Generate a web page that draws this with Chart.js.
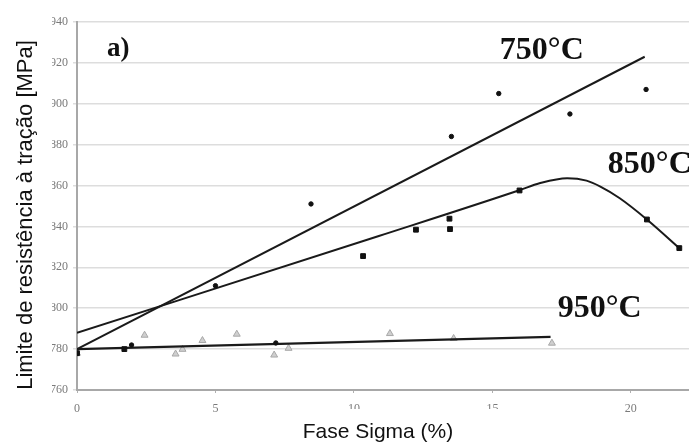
<!DOCTYPE html>
<html>
<head>
<meta charset="utf-8">
<script src="https://cdn.jsdelivr.net/npm/chart.js@4.4.0/dist/chart.umd.min.js"></script>
<style>
  html, body { margin: 0; padding: 0; background: #ffffff; }
  #wrap { width: 689px; height: 447px; }
</style>
</head>
<body>
<div id="wrap"><canvas id="chart" width="689" height="447"></canvas></div>
<script>
// Sigma phase content (%) and tensile strength (MPa) for each ageing temperature
const sigma750 = [0, 1.97, 5.0, 7.18, 8.45, 13.52, 15.23, 17.8, 20.55];
const strength750 = [778, 782, 811, 783, 851, 884, 905, 895, 907];

const sigma850 = [0, 1.71, 10.33, 12.24, 13.45, 13.47, 15.98, 20.58, 21.75];
const strength850 = [778, 780, 825.5, 838.4, 843.8, 838.7, 857.6, 843.4, 829.4];

const sigma950 = [0, 2.44, 3.56, 3.81, 4.53, 5.77, 7.12, 7.64, 11.3, 13.6, 17.15];
const strength950 = [778, 786.8, 777.6, 779.9, 784.2, 787.3, 777.1, 780.4, 787.6, 785.2, 782.9];

// Trend curves
const trend750X = [0, 20.5];
const trend750Y = [780, 923];
const trend850X = [0, 10.9, 16.0, 16.7, 17.7, 18.4, 18.9, 19.6, 20.6, 21.8];
const trend850Y = [788, 835.3, 857.8, 861.1, 863.6, 862.4, 859.5, 853.8, 843.2, 828.8];
const trend950X = [0, 17.1];
const trend950Y = [780, 786];

// Axis ticks
const xTicks = [0, 5, 10, 15, 20];
const yTicks = [760, 780, 800, 820, 840, 860, 880, 900, 920, 940];

// Curve labels
const curveLabels = ['750°C', '850°C', '950°C'];
const panelLabel = 'a)';
const xTitle = 'Fase Sigma (%)';
const yTitle = 'Limite de resistência à tração [MPa]';

const pts = (xs, ys) => xs.map((x, i) => ({ x: x, y: ys[i] }));

const serif = "'Liberation Serif', 'Times New Roman', serif";
const sans = "'Liberation Sans', Arial, sans-serif";

const overlay = {
  id: 'overlay',
  afterDraw(chart) {
    const ctx = chart.ctx;
    const xs = chart.scales.x, ys = chart.scales.y;
    ctx.save();

    // Curve annotations
    ctx.fillStyle = '#111';
    ctx.textBaseline = 'alphabetic';
    ctx.textAlign = 'left';
    ctx.font = 'bold 32px ' + serif;
    const anchors = [[15.27, 922], [19.17, 866.3], [17.36, 795.6]];
    curveLabels.forEach((t, i) => {
      ctx.fillText(t, xs.getPixelForValue(anchors[i][0]), ys.getPixelForValue(anchors[i][1]));
    });
    ctx.font = 'bold 27px ' + serif;
    ctx.fillText(panelLabel, xs.getPixelForValue(1.08), ys.getPixelForValue(923.4));

    // Title panels
    ctx.fillStyle = '#ffffff';
    ctx.fillRect(0, 0, 52, chart.height);
    ctx.fillRect(283, 409, 320, chart.height - 409);

    ctx.fillStyle = '#111';
    ctx.font = '21px ' + sans;
    ctx.textAlign = 'center';
    ctx.fillText(xTitle, 378, 438);

    ctx.translate(32, 215);
    ctx.rotate(-Math.PI / 2);
    ctx.font = '22px ' + sans;
    ctx.textAlign = 'center';
    ctx.fillText(yTitle, 0, 0);
    ctx.restore();
  }
};

new Chart(document.getElementById('chart'), {
  type: 'scatter',
  data: {
    datasets: [
      {
        label: '750°C',
        data: pts(sigma750, strength750),
        pointStyle: 'circle',
        pointRadius: 2.2,
        backgroundColor: '#111',
        borderColor: '#111',
        borderWidth: 1,
        order: 0
      },
      {
        label: '850°C',
        data: pts(sigma850, strength850),
        pointStyle: 'rect',
        pointRadius: 3.4,
        backgroundColor: '#111',
        borderColor: '#111',
        borderWidth: 1,
        order: 0
      },
      {
        label: '950°C',
        data: pts(sigma950, strength950),
        pointStyle: 'triangle',
        pointRadius: 4,
        backgroundColor: '#cfcfcf',
        borderColor: '#a8a8a8',
        borderWidth: 1,
        order: 2
      },
      {
        label: 'Tendência 750°C',
        data: pts(trend750X, trend750Y),
        showLine: true,
        pointRadius: 0,
        borderColor: '#1a1a1a',
        borderWidth: 2,
        order: 1
      },
      {
        label: 'Tendência 850°C',
        data: pts(trend850X, trend850Y),
        showLine: true,
        pointRadius: 0,
        borderColor: '#1a1a1a',
        borderWidth: 2,
        cubicInterpolationMode: 'monotone',
        order: 1
      },
      {
        label: 'Tendência 950°C',
        data: pts(trend950X, trend950Y),
        showLine: true,
        pointRadius: 0,
        borderColor: '#1a1a1a',
        borderWidth: 2.4,
        order: 1
      }
    ]
  },
  options: {
    responsive: false,
    animation: false,
    layout: { autoPadding: false, padding: { top: 22, right: 0, left: 0, bottom: 0 } },
    plugins: { legend: { display: false }, tooltip: { enabled: false } },
    scales: {
      x: {
        type: 'linear',
        min: 0,
        max: 22.1,
        afterFit: s => { s.height = 57; s.paddingLeft = 0; s.paddingRight = 0; },
        afterBuildTicks: s => { s.ticks = xTicks.map(v => ({ value: v })); },
        ticks: { font: { family: serif, size: 12 }, color: '#7a7a7a', padding: 9 },
        grid: { drawOnChartArea: false, drawTicks: true, tickLength: 3, color: '#b0b0b0' },
        border: { color: '#a8a8a8', width: 2 }
      },
      y: {
        type: 'linear',
        min: 760,
        max: 940,
        afterFit: s => { s.width = 77; },
        afterBuildTicks: s => { s.ticks = yTicks.map(v => ({ value: v })); },
        ticks: { font: { family: serif, size: 12 }, color: '#7a7a7a', padding: 5 },
        grid: { color: '#dddddd', lineWidth: 1.5, tickLength: 4 },
        border: { color: '#a8a8a8', width: 2 }
      }
    }
  },
  plugins: [overlay]
});
</script>
</body>
</html>
